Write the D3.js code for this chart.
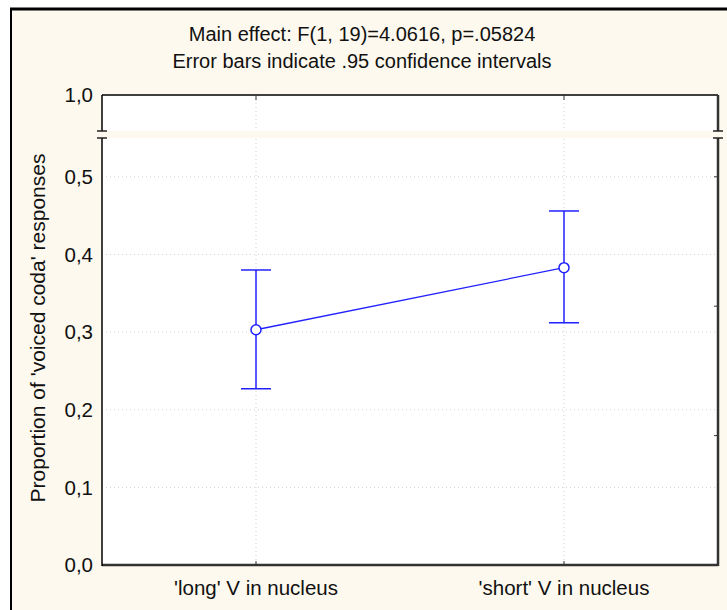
<!DOCTYPE html>
<html>
<head>
<meta charset="utf-8">
<script src="https://cdn.jsdelivr.net/npm/d3@7"></script>
<style>
  body { margin: 0; background: #fff; }
  text { font-family: "Liberation Sans", Arial, sans-serif; fill: #111; }
</style>
</head>
<body>
<script>
// data
const categories = ["'long' V in nucleus", "'short' V in nucleus"];
const means = [0.303, 0.383];
const lower = [0.227, 0.312];
const upper = [0.380, 0.456];
const yTicks = [0, 0.1, 0.2, 0.3, 0.4, 0.5];
const topTicks = [1.0];
const rightTicks = [1 / 6, 2 / 6, 3 / 6];
const titleLines = ["Main effect: F(1, 19)=4.0616, p=.05824", "Error bars indicate .95 confidence intervals"];
const yLabel = "Proportion of 'voiced coda' responses";

const W = 727, H = 610;
const margin = {left: 102, top: 95};
const pw = 616, ph = 470;
const breakTop = 36, breakBottom = 43;
const cream = "#fdf9ee";
const blue = "#2222ff";
const fs = 20.5;

const fmt = v => d3.format(".1f")(v).replace(".", ",");

const svg = d3.select("body").append("svg")
  .attr("width", W)
  .attr("height", H);

// outer panel
svg.append("rect").attr("x", 11).attr("y", 9).attr("width", W).attr("height", H)
  .attr("fill", cream);
svg.append("line").attr("x1", 11).attr("x2", 11).attr("y1", 8).attr("y2", H)
  .attr("stroke", "#000").attr("stroke-width", 2);
svg.append("line").attr("x1", 10).attr("x2", W).attr("y1", 9).attr("y2", 9)
  .attr("stroke", "#000").attr("stroke-width", 3);

// titles
svg.selectAll(".title")
  .data(titleLines)
  .enter()
  .append("text")
  .attr("x", 362)
  .attr("y", (d, i) => 41 + i * 27)
  .attr("text-anchor", "middle")
  .style("font-size", "20px")
  .text(d => d);

const g = svg.append("g").attr("transform", `translate(${margin.left},${margin.top})`);

const x = d3.scalePoint().domain(categories).range([0, pw]).padding(0.5);
const yLow = d3.scaleLinear().domain([0, 0.55]).range([ph, breakBottom]);
const yHigh = d3.scaleLinear().domain([0.954, 1.0]).range([breakTop, 0]);

// plot background
g.append("rect").attr("width", pw).attr("height", ph).attr("fill", "#fff");

// grid
const grid = g.append("g")
  .attr("stroke", "#d2d2d2")
  .attr("stroke-dasharray", "1,3");
grid.selectAll(".hg")
  .data(yTicks.slice(1))
  .enter()
  .append("line")
  .attr("x1", 0).attr("x2", pw)
  .attr("y1", d => yLow(d)).attr("y2", d => yLow(d));
grid.selectAll(".vg")
  .data(categories)
  .enter()
  .append("line")
  .attr("x1", d => x(d)).attr("x2", d => x(d))
  .attr("y1", 0).attr("y2", ph);

// axis break band
g.append("rect")
  .attr("x", -2).attr("y", breakTop)
  .attr("width", pw + 4).attr("height", breakBottom - breakTop)
  .attr("fill", cream);

// frame of plot
g.append("line").attr("x1", 0).attr("x2", pw).attr("y1", 0).attr("y2", 0)
  .attr("stroke", "#000").attr("stroke-width", 1.5);
g.append("line").attr("x1", 0).attr("x2", pw).attr("y1", ph).attr("y2", ph)
  .attr("stroke", "#333").attr("stroke-width", 2.5);
[[0, "#000", 1.5], [pw, "#333", 2.5]].forEach(([xx, c, sw]) => {
  g.append("line").attr("x1", xx).attr("x2", xx).attr("y1", 0).attr("y2", breakTop)
    .attr("stroke", c).attr("stroke-width", sw);
  g.append("line").attr("x1", xx).attr("x2", xx).attr("y1", breakBottom).attr("y2", ph + 1)
    .attr("stroke", c).attr("stroke-width", sw);
  [breakTop, breakBottom].forEach(yy => {
    g.append("line").attr("x1", xx - 5).attr("x2", xx + 5).attr("y1", yy).attr("y2", yy)
      .attr("stroke", "#222").attr("stroke-width", 1.5);
  });
});

// category ticks top and bottom
g.selectAll(".tt")
  .data(categories)
  .enter()
  .append("line")
  .attr("x1", d => x(d)).attr("x2", d => x(d))
  .attr("y1", 0).attr("y2", 5)
  .attr("stroke", "#333");
g.selectAll(".bt")
  .data(categories)
  .enter()
  .append("line")
  .attr("x1", d => x(d)).attr("x2", d => x(d))
  .attr("y1", ph).attr("y2", ph - 4)
  .attr("stroke", "#333");

// right axis ticks
g.selectAll(".rt")
  .data(rightTicks)
  .enter()
  .append("line")
  .attr("x1", pw).attr("x2", pw - 4)
  .attr("y1", d => yLow(d)).attr("y2", d => yLow(d))
  .attr("stroke", "#333");

// y tick labels
g.selectAll(".yl")
  .data(yTicks)
  .enter()
  .append("text")
  .attr("x", -9)
  .attr("y", d => yLow(d))
  .attr("dy", "0.35em")
  .attr("text-anchor", "end")
  .style("font-size", fs + "px")
  .text(d => fmt(d));
g.selectAll(".yh")
  .data(topTicks)
  .enter()
  .append("text")
  .attr("x", -9)
  .attr("y", d => yHigh(d))
  .attr("dy", "0.35em")
  .attr("text-anchor", "end")
  .style("font-size", fs + "px")
  .text(d => fmt(d));

// x labels
g.selectAll(".xl")
  .data(categories)
  .enter()
  .append("text")
  .attr("x", d => x(d))
  .attr("y", ph + 30)
  .attr("text-anchor", "middle")
  .style("font-size", fs + "px")
  .text(d => d);

// y label
svg.append("text")
  .attr("transform", "translate(45,328) rotate(-90)")
  .attr("text-anchor", "middle")
  .style("font-size", "21px")
  .text(yLabel);

// error bars
const capW = 15;
const bars = g.selectAll(".eb")
  .data(categories)
  .enter()
  .append("g")
  .attr("stroke", blue)
  .attr("stroke-width", 1.5);
bars.append("line")
  .attr("x1", d => x(d)).attr("x2", d => x(d))
  .attr("y1", (d, i) => yLow(lower[i])).attr("y2", (d, i) => yLow(upper[i]));
bars.append("line")
  .attr("x1", d => x(d) - capW).attr("x2", d => x(d) + capW)
  .attr("y1", (d, i) => yLow(upper[i])).attr("y2", (d, i) => yLow(upper[i]));
bars.append("line")
  .attr("x1", d => x(d) - capW).attr("x2", d => x(d) + capW)
  .attr("y1", (d, i) => yLow(lower[i])).attr("y2", (d, i) => yLow(lower[i]));

// mean line and points
const line = d3.line()
  .x((d, i) => x(categories[i]))
  .y(d => yLow(d));
g.append("path")
  .datum(means)
  .attr("d", line)
  .attr("fill", "none")
  .attr("stroke", blue)
  .attr("stroke-width", 1.3);
g.selectAll(".pt")
  .data(means)
  .enter()
  .append("circle")
  .attr("cx", (d, i) => x(categories[i]))
  .attr("cy", d => yLow(d))
  .attr("r", 5)
  .attr("fill", "#fff")
  .attr("stroke", blue)
  .attr("stroke-width", 1.5);
</script>
</body>
</html>
